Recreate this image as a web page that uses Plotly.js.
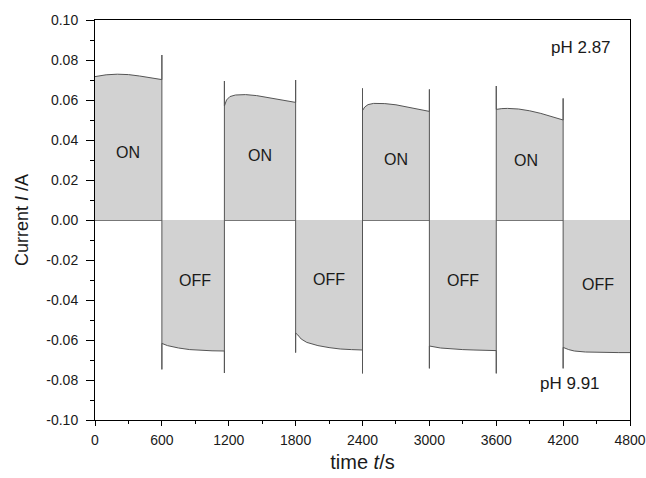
<!DOCTYPE html>
<html>
<head>
<meta charset="utf-8">
<script src="https://cdn.plot.ly/plotly-3.0.1.min.js"></script>
<style>html,body{margin:0;padding:0;background:#fff;}#chart{width:646px;height:478px;}</style>
</head>
<body>
<div id="chart"></div>
<script>
// time (s) and current (A), vertical transitions repeat the same time value
var timeS = [
  0, 50, 100, 200, 300, 400, 500, 600,
  600, 600, 600,
  650, 750, 850, 950, 1050, 1161,
  1161, 1161, 1161,
  1180, 1210, 1260, 1350, 1450, 1550, 1650, 1750, 1800,
  1800, 1800, 1800,
  1820, 1850, 1900, 2000, 2100, 2200, 2300, 2400,
  2400, 2400, 2400,
  2420, 2450, 2500, 2600, 2700, 2800, 2900, 3000,
  3000, 3000, 3000,
  3100, 3200, 3300, 3400, 3500, 3600,
  3600, 3600, 3600,
  3650, 3700, 3800, 3900, 4000, 4100, 4200,
  4200, 4200, 4200,
  4250, 4300, 4400, 4500, 4600, 4700, 4800
];
var currentA = [
  0.0717, 0.0722, 0.0726, 0.0729, 0.0727, 0.0720, 0.0712, 0.0702,
  0.0825, -0.0747, -0.0617,
  -0.0628, -0.0640, -0.0648, -0.0652, -0.0654, -0.0655,
  -0.0765, 0.0695, 0.0570,
  0.0600, 0.0617, 0.0625, 0.0627, 0.0622, 0.0612, 0.0603, 0.0594, 0.0588,
  0.0700, -0.0663, -0.0565,
  -0.0575, -0.0595, -0.0612, -0.0628, -0.0638, -0.0645, -0.0648, -0.0650,
  -0.0767, 0.0658, 0.0547,
  0.0565, 0.0577, 0.0583, 0.0582, 0.0576, 0.0566, 0.0556, 0.0543,
  0.0653, -0.0742, -0.0630,
  -0.0640, -0.0645, -0.0648, -0.0650, -0.0652, -0.0653,
  -0.0767, 0.0670, 0.0553,
  0.0557, 0.0558, 0.0555, 0.0546, 0.0533, 0.0518, 0.0500,
  0.0608, -0.0742, -0.0637,
  -0.0648, -0.0655, -0.0660, -0.0662, -0.0663, -0.0663, -0.0663
];

var stateLabels = ['ON', 'OFF', 'ON', 'OFF', 'ON', 'OFF', 'ON', 'OFF'];
var stateLabelT = [300, 900, 1476, 2097, 2700, 3300, 3870, 4515];
var stateLabelI = [0.034, -0.0303, 0.0325, -0.0296, 0.0305, -0.030, 0.030, -0.032];

var phLabels = ['pH 2.87', 'pH 9.91'];
var phLabelT = [4650, 4266];
var phLabelI = [0.0865, -0.0815];

var xTickVals = [0, 600, 1200, 1800, 2400, 3000, 3600, 4200, 4800];
var yTickVals = [-0.10, -0.08, -0.06, -0.04, -0.02, 0.00, 0.02, 0.04, 0.06, 0.08, 0.10];
var yTickText = ['-0.10', '-0.08', '-0.06', '-0.04', '-0.02', '0.00', '0.02', '0.04', '0.06', '0.08', '0.10'];

var font = 'Liberation Sans, Arial, Helvetica, sans-serif';

var traces = [{
  x: timeS, y: currentA, type: 'scatter', mode: 'lines',
  fill: 'tozeroy', fillcolor: '#d2d2d2',
  line: {color: '#555555', width: 1},
  hoverinfo: 'skip', showlegend: false
}];

var annotations = [];
for (var i = 0; i < stateLabels.length; i++) {
  annotations.push({x: stateLabelT[i], y: stateLabelI[i], text: stateLabels[i], showarrow: false,
    font: {family: font, size: 16, color: '#1a1a1a'}, xanchor: 'center', yanchor: 'middle'});
}
annotations.push({x: phLabelT[0], y: phLabelI[0], text: phLabels[0], showarrow: false,
  font: {family: font, size: 17, color: '#1a1a1a'}, xanchor: 'right', yanchor: 'middle'});
annotations.push({x: phLabelT[1], y: phLabelI[1], text: phLabels[1], showarrow: false,
  font: {family: font, size: 17, color: '#1a1a1a'}, xanchor: 'center', yanchor: 'middle'});

var layout = {
  width: 646, height: 478,
  margin: {l: 95, r: 16, t: 20, b: 58},
  paper_bgcolor: '#ffffff', plot_bgcolor: '#ffffff',
  font: {family: font, color: '#1a1a1a'},
  showlegend: false,
  xaxis: {
    range: [0, 4800], tickvals: xTickVals, ticks: 'outside', ticklen: 5, tickwidth: 1, tickcolor: '#000',
    minor: {dtick: 300, tick0: 0, ticks: 'outside', ticklen: 3, tickcolor: '#000'},
    showline: true, linecolor: '#000', linewidth: 1, mirror: true,
    showgrid: false, zeroline: false, ticklabeloverflow: 'allow', ticklabelstandoff: 2,
    tickfont: {family: font, size: 14, color: '#1a1a1a'},
    title: {text: 'time <i>t</i>/s', font: {family: font, size: 20, color: '#1a1a1a'}, standoff: 8}
  },
  yaxis: {
    range: [-0.10, 0.10], tickvals: yTickVals, ticktext: yTickText, ticks: 'outside', ticklen: 8, tickwidth: 1, tickcolor: '#000',
    minor: {dtick: 0.01, tick0: 0, ticks: 'outside', ticklen: 4, tickcolor: '#000'},
    showline: true, linecolor: '#000', linewidth: 1, mirror: true, ticklabelstandoff: 5,
    showgrid: false, zeroline: true, zerolinecolor: '#777777', zerolinewidth: 1,
    tickfont: {family: font, size: 14, color: '#1a1a1a'},
    title: {text: 'Current <i>I</i> /A', font: {family: font, size: 18, color: '#1a1a1a'}, standoff: 12}
  },
  xaxis2: {
    overlaying: 'x', side: 'top', anchor: 'y', range: [0, 4800], tickvals: xTickVals,
    ticks: 'inside', ticklen: 4, tickcolor: '#000', showticklabels: false,
    minor: {dtick: 300, tick0: 0, ticks: 'inside', ticklen: 3, tickcolor: '#000'},
    showline: false, showgrid: false, zeroline: false
  },
  yaxis2: {
    overlaying: 'y', side: 'right', anchor: 'x', range: [-0.10, 0.10], tickvals: yTickVals,
    ticks: 'inside', ticklen: 5, tickcolor: '#000', showticklabels: false,
    minor: {dtick: 0.01, tick0: 0, ticks: 'inside', ticklen: 3, tickcolor: '#000'},
    showline: false, showgrid: false, zeroline: false
  },
  annotations: annotations
};

Plotly.newPlot('chart', traces, layout, {displayModeBar: false, staticPlot: true});
</script>
</body>
</html>
